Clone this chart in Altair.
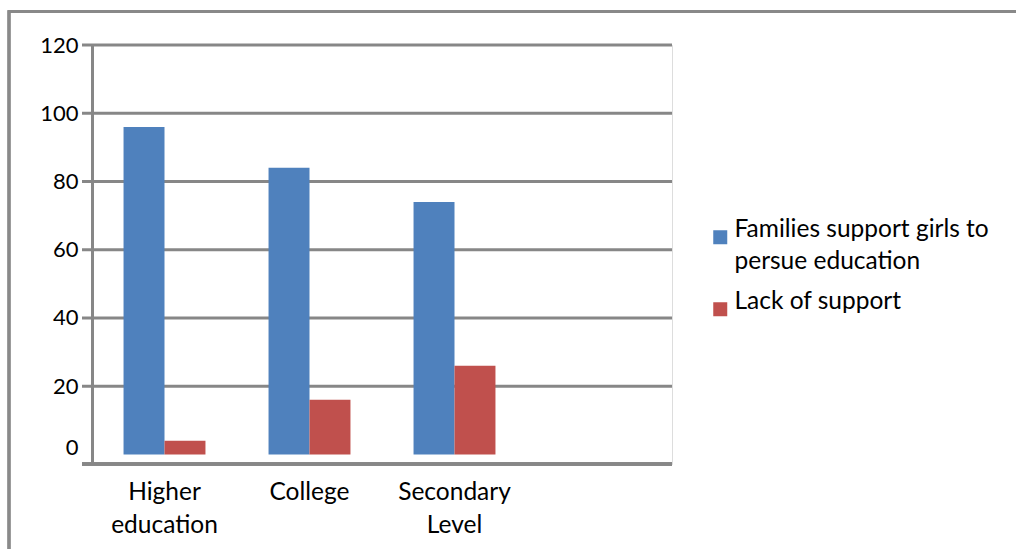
import altair as alt
import pandas as pd

# Survey shares (%) by education stage
categories = ["Higher education", "College", "Secondary Level"]
slots = categories + [""]  # fourth slot is left empty on the axis
support = [96, 84, 74]
lack = [4, 16, 26]
series = ["Families support girls to persue education", "Lack of support"]
colors = ["#4F81BD", "#C0504D"]
grid_values = [20, 40, 60, 80, 100, 120]
tick_values = [0, 20, 40, 60, 80, 100, 120]

rows = []
for c, s, l in zip(categories, support, lack):
    rows.append({"category": c, "series": series[0], "value": s})
    rows.append({"category": c, "series": series[1], "value": l})
df = pd.DataFrame(rows)
grid_df = pd.DataFrame({"value": grid_values})

W, H = 580, 419
GRAY = "#878787"
FONT = "Lato"

yscale = alt.Scale(domain=[-2.8, 120], nice=False, zero=False)

bars = alt.Chart(df).mark_bar().encode(
    x=alt.X(
        "category:N",
        scale=alt.Scale(domain=slots, paddingInner=0.435, paddingOuter=0.2175),
        sort=slots,
        axis=alt.Axis(
            title=None,
            domain=False,
            ticks=False,
            labelAngle=0,
            labelFont=FONT,
            labelFontSize=24.5,
            labelColor="#000000",
            labelPadding=16,
            labelLineHeight=33,
            labelBaseline="top",
            labelExpr="split(datum.label, ' ')",
        ),
    ),
    xOffset=alt.XOffset("series:N", sort=series),
    y=alt.Y(
        "value:Q",
        scale=yscale,
        axis=alt.Axis(
            title=None,
            values=tick_values,
            grid=False,
            ticks=False,
            domainColor=GRAY,
            domainWidth=3,
            labelFont=FONT,
            labelFontSize=22,
            labelColor="#000000",
            labelPadding=14,
            labelOffset={"condition": {"test": "datum.value == 0", "value": -7}, "value": 0},
        ),
    ),
    y2=alt.datum(0),
    color=alt.Color(
        "series:N",
        scale=alt.Scale(domain=series, range=colors),
        legend=alt.Legend(
            title=None,
            orient="none",
            legendX=616,
            legendY=180,
            symbolType="square",
            symbolSize=196,
            symbolStrokeWidth=0,
            labelFont=FONT,
            labelFontSize=24.5,
            labelColor="#000000",
            labelBaseline="alphabetic",
            labelOffset=2,
            rowPadding=15,
            padding=0,
            labelLimit=400,
            labelExpr=(
                "datum.label == 'Families support girls to persue education'"
                " ? ['Families support girls to', 'persue education'] : datum.label"
            ),
        ),
    ),
)

grid = alt.Chart(grid_df).mark_rule(color=GRAY, strokeWidth=3).encode(
    y=alt.Y("value:Q", scale=yscale),
    x=alt.value(-10),
    x2=alt.value(W),
)

baseline = alt.Chart(grid_df).mark_rule(color=GRAY, strokeWidth=3).encode(
    y=alt.value(H),
    x=alt.value(-10),
    x2=alt.value(W),
)

frame = alt.Chart(grid_df).mark_rect(
    fill=None, stroke="#898989", strokeWidth=2.5
).encode(
    x=alt.value(-83),
    x2=alt.value(W + 400),
    y=alt.value(-33.5),
    y2=alt.value(H + 200),
)

chart = (
    alt.layer(grid, baseline, bars, frame)
    .properties(
        width=W,
        height=H,
        autosize=alt.AutoSizeParams(type="none"),
        padding={"left": 92, "top": 45, "right": 1016 - 92 - W, "bottom": 549 - 45 - H},
        background="#ffffff",
    )
    .configure_view(stroke=None)
    .configure(style={"guide-label": {"lineHeight": 32}})
)

chart.save("out.html", embed_options={"renderer": "svg", "actions": False})
